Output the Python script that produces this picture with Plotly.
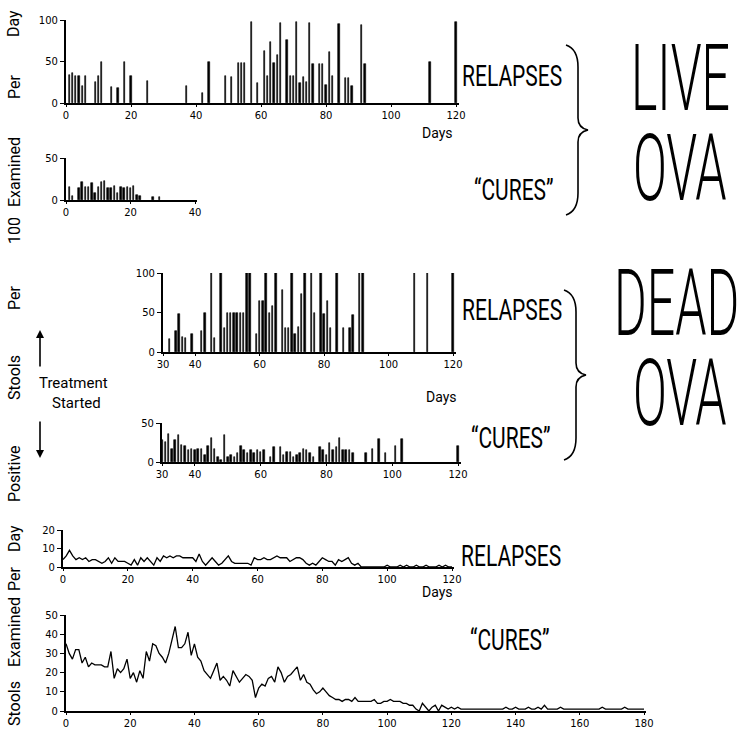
import plotly.graph_objects as go

W, H = 740, 729

# ---------------- data ----------------
# Live ova - relapses (positive stools per 100 examined per day)
live_rel_days = [1, 2, 3, 4, 5, 6, 9, 10, 11, 14, 16, 18, 20, 25, 37, 42, 44, 49, 51, 53, 54, 55, 57,
                 59, 61, 62, 63, 64, 65, 66, 68, 69, 70, 71, 72, 73, 74, 75, 76, 78, 79, 80, 81, 82,
                 84, 86, 87, 88, 91, 92, 112, 120]
live_rel_vals = [34, 36, 33, 33, 20, 33, 25, 33, 49, 19, 18, 50, 33, 27, 20, 12, 50, 32, 31, 48, 48, 48, 98,
                 24, 63, 32, 73, 48, 58, 96, 76, 32, 32, 98, 24, 31, 25, 96, 47, 47, 47, 22, 62, 32,
                 95, 30, 30, 21, 94, 47, 49, 98]

# Live ova - "cures"
live_cur_days = [1, 2, 4, 5, 6, 7, 8, 9, 10, 11, 12, 13, 14, 15, 16, 17, 18, 19, 20, 21, 22, 23, 27, 29]
live_cur_vals = [16, 5, 14, 22, 16, 16, 20, 8, 16, 21, 23, 14, 14, 17, 8, 15, 14, 16, 14, 17, 6, 5, 3, 3]

# Dead ova - relapses
dead_rel_days = [32, 34, 35, 36, 37, 39, 42, 43, 45, 46, 48, 49, 50, 51, 52, 53, 54, 55, 56, 57, 59, 60, 61,
                 62, 63, 64, 65, 67, 68, 69, 70, 71, 72, 73, 74, 76, 77, 79, 80, 81, 82, 84, 86, 88, 89,
                 91, 92, 108, 112, 120]
dead_rel_vals = [16, 26, 48, 19, 18, 23, 27, 49, 100, 18, 100, 31, 49, 49, 49, 49, 49, 49, 100, 100, 23, 65, 65,
                 100, 49, 58, 100, 79, 31, 31, 100, 23, 32, 74, 100, 100, 49, 100, 48, 64, 31, 100, 31, 31, 47,
                 100, 100, 100, 100, 100]

# Dead ova - "cures"
dead_cur_days = [30, 31, 32, 33, 34, 35, 36, 37, 38, 39, 40, 41, 42, 43, 44, 45, 46, 47, 48, 49, 50, 51, 52,
                 53, 54, 55, 56, 57, 58, 59, 60, 61, 63, 64, 66, 67, 68, 69, 70, 71, 72, 73, 74, 75, 76,
                 78, 79, 80, 81, 82, 83, 84, 85, 86, 87, 88, 92, 94, 96, 98, 101, 103, 120]
dead_cur_vals = [28, 26, 36, 17, 28, 34, 22, 21, 15, 17, 15, 17, 17, 9, 21, 31, 17, 6, 3, 35, 6, 9, 7,
                 11, 20, 15, 11, 15, 11, 15, 13, 15, 7, 19, 19, 9, 13, 13, 7, 9, 11, 17, 15, 12, 7,
                 19, 15, 9, 24, 15, 19, 31, 15, 15, 15, 11, 11, 17, 29, 12, 21, 30, 20]

# Combined - relapses, day 0..120
rel_line_days = list(range(0, 121))
rel_line_vals = [4, 6, 9, 6, 4, 5, 4, 5, 3, 4, 4, 3, 2, 3, 5, 2, 5, 3, 3, 3, 2, 1, 4, 1, 5, 3, 5, 3, 1, 5,
                 3, 6, 5, 6, 5, 6, 6, 5, 5, 5, 5, 3, 7, 3, 1, 3, 5, 3, 1, 2, 4, 6, 3, 2, 2, 2, 2, 2, 1, 5,
                 4, 4, 5, 4, 4, 5, 6, 5, 5, 5, 3, 4, 5, 5, 4, 2, 1, 2, 1, 3, 5, 4, 3, 3, 1, 4, 3, 4, 5, 2,
                 1, 2, 0, 0, 0, 0, 0, 0, 0, 0, 1, 0, 0, 0, 1, 0, 1, 0, 0, 1, 0, 0, 1, 0, 0, 0, 1, 0, 1, 0,
                 0]

# Combined - "cures", day 0..180
cur_line_days = list(range(0, 181))
cur_line_vals = [35, 30, 27, 32, 32, 25, 28, 23, 25, 24, 24, 24, 23, 23, 31, 17, 22, 20, 22, 27,
                 17, 20, 15, 21, 17, 31, 26, 35, 34, 30, 28, 25, 30, 37, 44, 33, 33, 35, 41, 29,
                 35, 28, 26, 21, 19, 17, 21, 25, 16, 18, 16, 13, 21, 18, 15, 17, 19, 18, 16, 7,
                 12, 14, 13, 17, 18, 15, 23, 20, 15, 18, 19, 21, 23, 16, 19, 15, 14, 11, 9, 10,
                 12, 10, 8, 7, 6, 6, 5, 6, 6, 5, 7, 5, 5, 5, 5, 5, 6, 4, 4, 5,
                 5, 6, 5, 5, 5, 4, 4, 3, 3, 1, 0, 4, 2, 0, 2, 3, 0, 3, 2, 1,
                 2, 1, 2, 1, 1, 1, 1, 1, 1, 1, 1, 1, 1, 1, 1, 1, 1, 2, 1, 1,
                 2, 1, 1, 1, 2, 1, 1, 2, 1, 3, 1, 1, 1, 1, 2, 1, 1, 1, 1, 1,
                 1, 1, 1, 1, 1, 1, 1, 2, 1, 1, 1, 1, 1, 1, 2, 1, 1, 1, 1, 1, 1]

# ---------------- helpers ----------------
def xdom(a, pa, b, pb, r0, r1):
    s = (pb - pa) / (b - a)
    return [(pa + (r0 - a) * s) / W, (pa + (r1 - a) * s) / W]

def ydom(a, pa, b, pb, r0, r1):
    s = (pb - pa) / (b - a)
    p0 = pa + (r0 - a) * s
    p1 = pa + (r1 - a) * s
    return [1 - p0 / H, 1 - p1 / H]

def px(x, y):
    return x / W, 1 - y / H

TICKFONT = dict(family="DejaVu Sans", size=10, color="black")
LBL = "Roboto, Liberation Sans, sans-serif"

fig = go.Figure()

panels = [
    # (days, vals, kind, x-map, y-map, xrange, yrange, xticks, yticks)
    (live_rel_days, live_rel_vals, "bar", (0, 66, 120, 456), (0, 103, 100, 20), [0, 121], [0, 100],
     [0, 20, 40, 60, 80, 100, 120], [0, 50, 100]),
    (live_cur_days, live_cur_vals, "bar", (0, 66, 40, 195), (0, 200, 50, 158), [0, 40.5], [0, 50],
     [0, 20, 40], [0, 50]),
    (dead_rel_days, dead_rel_vals, "bar", (30, 163, 120, 453), (0, 352, 100, 273), [30, 121], [0, 100],
     [30, 40, 60, 80, 100, 120], [0, 50, 100]),
    (dead_cur_days, dead_cur_vals, "bar", (30, 162, 120, 458), (0, 462, 50, 423), [30, 121], [0, 50],
     [30, 40, 60, 80, 100, 120], [0, 50]),
    (rel_line_days, rel_line_vals, "line", (0, 63, 120, 452), (0, 567, 20, 530), [0, 120.5], [0, 20],
     [0, 20, 40, 60, 80, 100, 120], [0, 10, 20]),
    (cur_line_days, cur_line_vals, "line", (0, 66, 180, 644), (0, 711, 50, 615), [0, 180.5], [0, 50],
     [0, 20, 40, 60, 80, 100, 120, 140, 160, 180], [0, 10, 20, 30, 40, 50]),
]

layout_axes = {}
for i, (dx, vy, kind, xm, ym, xr, yr, xt, yt) in enumerate(panels, start=1):
    xa = "x" if i == 1 else f"x{i}"
    ya = "y" if i == 1 else f"y{i}"
    if kind == "bar":
        fig.add_trace(go.Bar(x=dx, y=vy, xaxis=xa, yaxis=ya, width=0.45,
                             marker=dict(color="black", line=dict(color="black", width=0.6)),
                             showlegend=False, hoverinfo="x+y"))
    else:
        fig.add_trace(go.Scatter(x=dx, y=vy, xaxis=xa, yaxis=ya, mode="lines",
                                 line=dict(color="black", width=1.3), showlegend=False))
    layout_axes["xaxis" if i == 1 else f"xaxis{i}"] = dict(
        domain=xdom(*xm, *xr), range=xr, anchor=ya, showgrid=False, zeroline=False,
        showline=True, linecolor="black", linewidth=2.2, ticks="outside", ticklen=2,
        tickwidth=1.2, tickcolor="black", tickvals=xt, tickfont=TICKFONT, fixedrange=True,
        automargin=False)
    layout_axes["yaxis" if i == 1 else f"yaxis{i}"] = dict(
        domain=ydom(*ym, *yr), range=yr, anchor=xa, showgrid=False, zeroline=False,
        showline=True, linecolor="black", linewidth=2.2, ticks="outside", ticklen=4,
        tickwidth=1.2, tickcolor="black", tickvals=yt, tickfont=TICKFONT, fixedrange=True,
        automargin=False)

annotations = []

def text(x, y, s, size, angle=0, family=LBL, weight=400):
    ax, ay = px(x, y)
    annotations.append(dict(x=ax, y=ay, xref="paper", yref="paper", text=s, showarrow=False,
                            textangle=angle, xanchor="center", yanchor="middle",
                            font=dict(family=family, size=size, color="black", weight=weight)))

# left rotated axis words
for word, y in [("Day", 24), ("Per", 87), ("Examined", 172), ("100", 231), ("Per", 298),
                ("Stools", 378), ("Positive", 474)]:
    text(14, y, word, 16, -90)
for word, y in [("Day", 539), ("Per", 579), ("Examined", 632), ("Stools", 704)]:
    text(14, y, word, 16, -90)

# right labels
text(512, 76, "RELAPSES", 21)
text(514, 190, "\u201cCURES\u201d", 21)
text(512, 310, "RELAPSES", 21)
text(511, 438, "\u201cCURES\u201d", 21)
text(511, 556, "RELAPSES", 21)
text(510, 640, "\u201cCURES\u201d", 21)

text(680, 78, "LIVE", 50, weight=300)
text(680, 168, "OVA", 50, weight=300)
text(676, 303, "DEAD", 50, weight=300)
text(680, 393, "OVA", 50, weight=300)

# Days
text(437, 133, "Days", 14)
text(441, 397, "Days", 14)
text(437, 592, "Days", 14)

# Treatment started
text(73, 383, "Treatment", 15)
text(76, 403, "Started", 15)

for (hx, hy, dy) in [(40, 330, 38), (40, 458, -38)]:
    ax_, ay_ = px(hx, hy)
    annotations.append(dict(x=ax_, y=ay_, xref="paper", yref="paper", text="", showarrow=True,
                            ax=0, ay=dy, arrowhead=2, arrowsize=1, arrowwidth=1.6, arrowcolor="black"))

# braces
def brace(x0, ytop, ybot, w=12, tip=10):
    ym = (ytop + ybot) / 2
    pts = [
        ("M", [(x0, ytop)]),
        ("Q", [(x0 + w, ytop + 4), (x0 + w, ytop + 22)]),
        ("L", [(x0 + w, ym - 12)]),
        ("Q", [(x0 + w, ym - 2), (x0 + w + tip, ym)]),
        ("Q", [(x0 + w, ym + 2), (x0 + w, ym + 12)]),
        ("L", [(x0 + w, ybot - 22)]),
        ("Q", [(x0 + w, ybot - 4), (x0, ybot)]),
    ]
    path = ""
    for cmd, ps in pts:
        path += cmd + " " + " ".join(f"{px(a, b)[0]:.5f},{px(a, b)[1]:.5f}" for a, b in ps) + " "
    return dict(type="path", path=path.strip(), xref="paper", yref="paper",
                line=dict(color="black", width=1.6))

shapes = [brace(566, 45, 215), brace(564, 290, 460)]

fig.update_layout(
    template="none",
    width=W, height=H, margin=dict(l=0, r=0, t=0, b=0, pad=0), autosize=False,
    paper_bgcolor="white", plot_bgcolor="white",
    showlegend=False, bargap=0, annotations=annotations, shapes=shapes,
    **layout_axes,
)

# page: no body margin; hand-lettered labels are tall and narrow -> stretch the text glyphs vertically
post = """
document.body.style.margin='0';
document.body.style.overflow='hidden';
var sc = {'LIVE':1.85,'OVA':1.85,'DEAD':1.85,'RELAPSES':1.4,'\\u201cCURES\\u201d':1.4};
document.querySelectorAll('.annotation-text').forEach(function(t){
  var k = t.textContent;
  if (sc[k]) {
    t.style.transformBox = 'fill-box';
    t.style.transformOrigin = 'center';
    t.style.transform = 'scaleY(' + sc[k] + ')';
  }
});
"""

fig.write_html("out.html", post_script=post, config={"displayModeBar": False})
